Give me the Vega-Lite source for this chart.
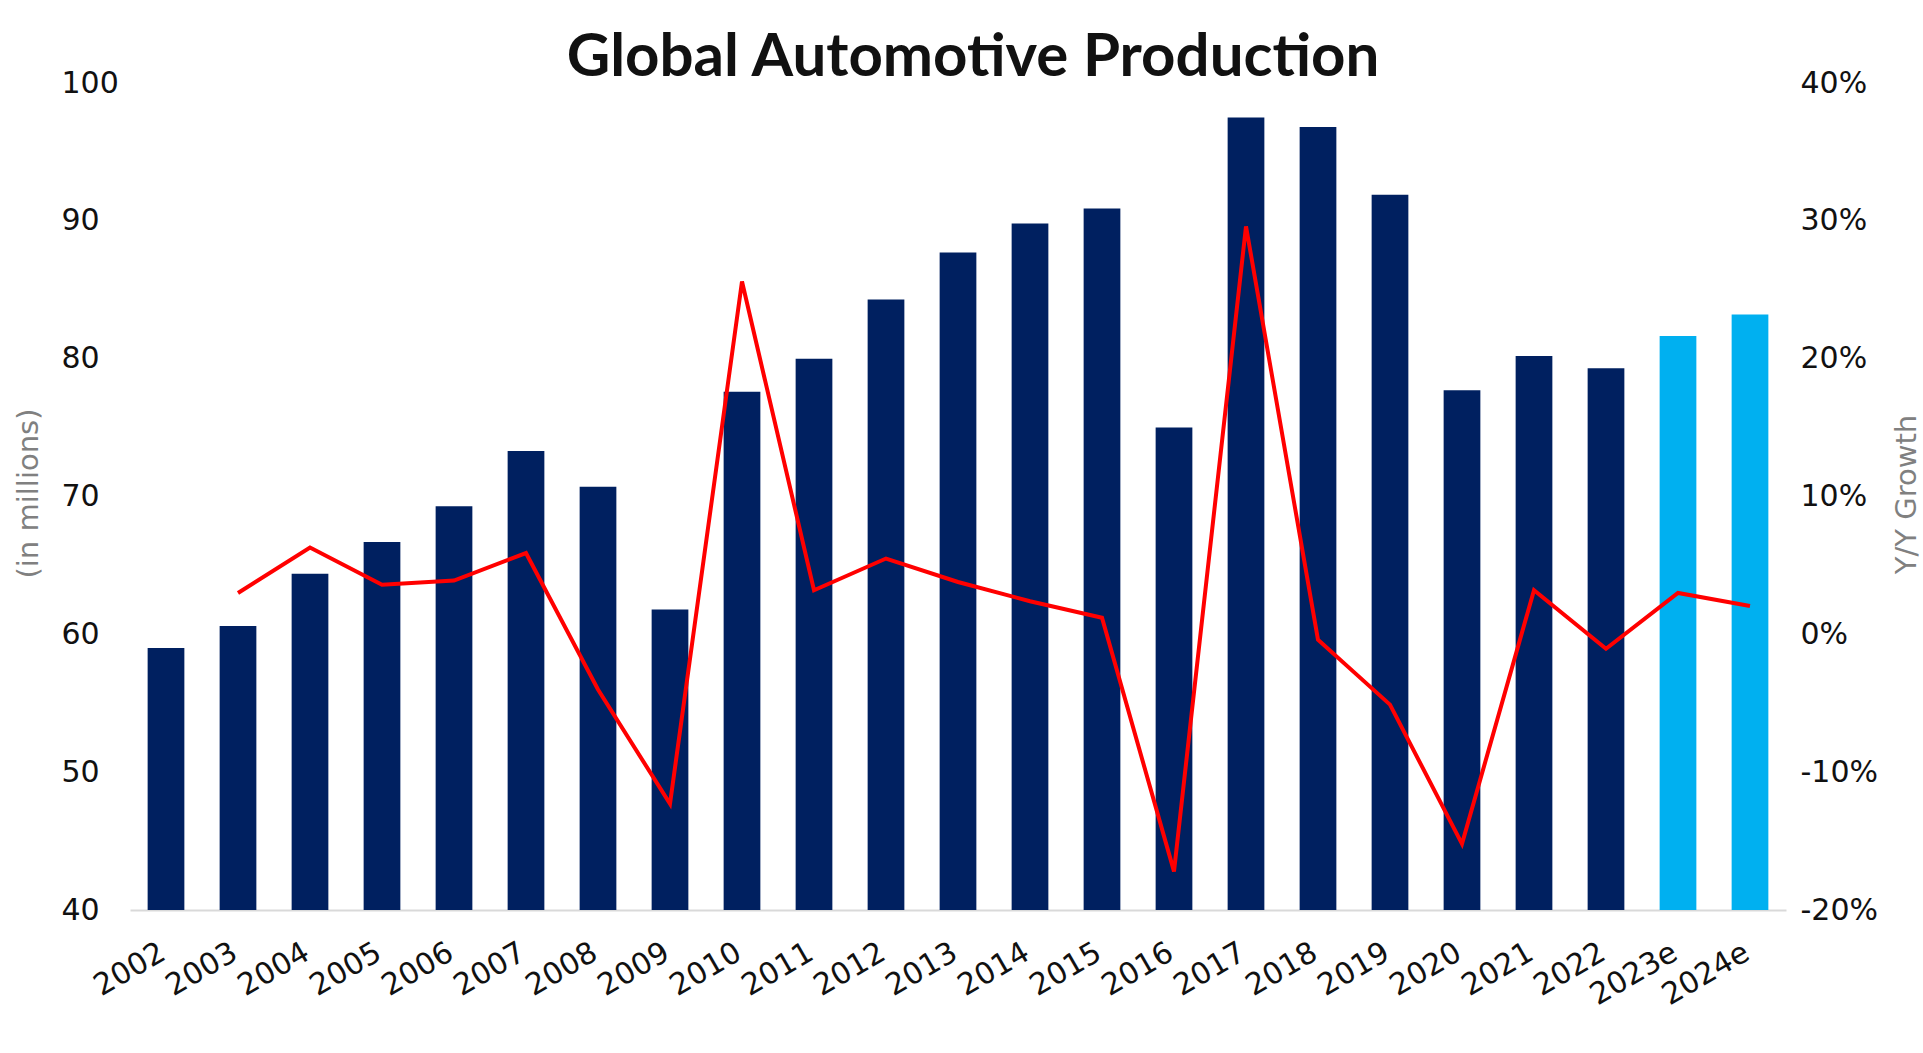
{
  "$schema": "https://vega.github.io/schema/vega-lite/v6.json",
  "autosize": {"type": "none"},
  "padding": {"left": 130, "top": 83, "right": 137, "bottom": 143},
  "width": 1656,
  "height": 827,
  "background": "#FFFFFF",
  "title": {
    "text": "Global Automotive Production",
    "font": "Lato",
    "fontSize": 60,
    "fontWeight": "bold",
    "color": "#111111",
    "frame": "group",
    "anchor": "middle",
    "dx": 15,
    "offset": -21
  },
  "config": {
    "view": {"stroke": null},
    "axis": {
      "labelFont": "DejaVu Sans",
      "labelFontSize": 30,
      "labelColor": "#111111",
      "titleFont": "DejaVu Sans",
      "titleFontSize": 29,
      "titleFontWeight": "normal",
      "titleColor": "#808080",
      "grid": false,
      "ticks": false,
      "tickSize": 0
    }
  },
  "data": {
    "values": [
      {"year": "2002", "production": 59.0, "growth": null, "kind": "actual"},
      {"year": "2003", "production": 60.6, "growth": 3.0, "kind": "actual"},
      {"year": "2004", "production": 64.4, "growth": 6.3, "kind": "actual"},
      {"year": "2005", "production": 66.7, "growth": 3.6, "kind": "actual"},
      {"year": "2006", "production": 69.3, "growth": 3.9, "kind": "actual"},
      {"year": "2007", "production": 73.3, "growth": 5.9, "kind": "actual"},
      {"year": "2008", "production": 70.7, "growth": -4.0, "kind": "actual"},
      {"year": "2009", "production": 61.8, "growth": -12.3, "kind": "actual"},
      {"year": "2010", "production": 77.6, "growth": 25.6, "kind": "actual"},
      {"year": "2011", "production": 80.0, "growth": 3.2, "kind": "actual"},
      {"year": "2012", "production": 84.3, "growth": 5.5, "kind": "actual"},
      {"year": "2013", "production": 87.7, "growth": 3.8, "kind": "actual"},
      {"year": "2014", "production": 89.8, "growth": 2.4, "kind": "actual"},
      {"year": "2015", "production": 90.9, "growth": 1.2, "kind": "actual"},
      {"year": "2016", "production": 75.0, "growth": -17.2, "kind": "actual"},
      {"year": "2017", "production": 97.5, "growth": 29.6, "kind": "actual"},
      {"year": "2018", "production": 96.8, "growth": -0.4, "kind": "actual"},
      {"year": "2019", "production": 91.9, "growth": -5.1, "kind": "actual"},
      {"year": "2020", "production": 77.7, "growth": -15.2, "kind": "actual"},
      {"year": "2021", "production": 80.2, "growth": 3.2, "kind": "actual"},
      {"year": "2022", "production": 79.3, "growth": -1.05, "kind": "actual"},
      {"year": "2023e", "production": 81.65, "growth": 3.0, "kind": "estimate"},
      {"year": "2024e", "production": 83.2, "growth": 2.06, "kind": "estimate"}
    ]
  },
  "encoding": {
    "x": {
      "field": "year",
      "type": "ordinal",
      "sort": null,
      "scale": {"paddingInner": 0.49, "paddingOuter": 0.245},
      "axis": {
        "title": null,
        "labelAngle": -30,
        "labelAlign": "right",
        "labelBaseline": "middle",
        "labelPadding": 40,
        "labelOffset": -3,
        "domain": true,
        "domainColor": "#D9D9D9",
        "domainWidth": 2
      }
    }
  },
  "layer": [
    {
      "mark": {"type": "bar", "clip": true},
      "encoding": {
        "y": {
          "field": "production",
          "type": "quantitative",
          "scale": {"domain": [40, 100], "nice": false, "zero": false},
          "axis": {
            "title": "(in millions)",
            "values": [40, 50, 60, 70, 80, 90, 100],
            "format": "d",
            "domain": false,
            "labelAlign": "left",
            "labelPadding": 69,
            "titleX": -102,
            "titleY": 410,
            "titleAngle": 270,
            "titleAlign": "center",
            "titleBaseline": "middle"
          }
        },
        "color": {
          "field": "kind",
          "type": "nominal",
          "scale": {"domain": ["actual", "estimate"], "range": ["#002060", "#00B0F0"]},
          "legend": null
        }
      }
    },
    {
      "mark": {"type": "line", "color": "#FF0000", "strokeWidth": 4},
      "encoding": {
        "y": {
          "field": "growth",
          "type": "quantitative",
          "scale": {"domain": [-20, 40], "nice": false, "zero": false},
          "axis": {
            "orient": "right",
            "title": "Y/Y Growth",
            "values": [-20, -10, 0, 10, 20, 30, 40],
            "labelExpr": "datum.value + '%'",
            "domain": false,
            "labelAlign": "left",
            "labelPadding": 14,
            "titleX": 120,
            "titleY": 411,
            "titleAngle": 270,
            "titleAlign": "center",
            "titleBaseline": "middle"
          }
        }
      }
    }
  ],
  "resolve": {"scale": {"y": "independent"}}
}
